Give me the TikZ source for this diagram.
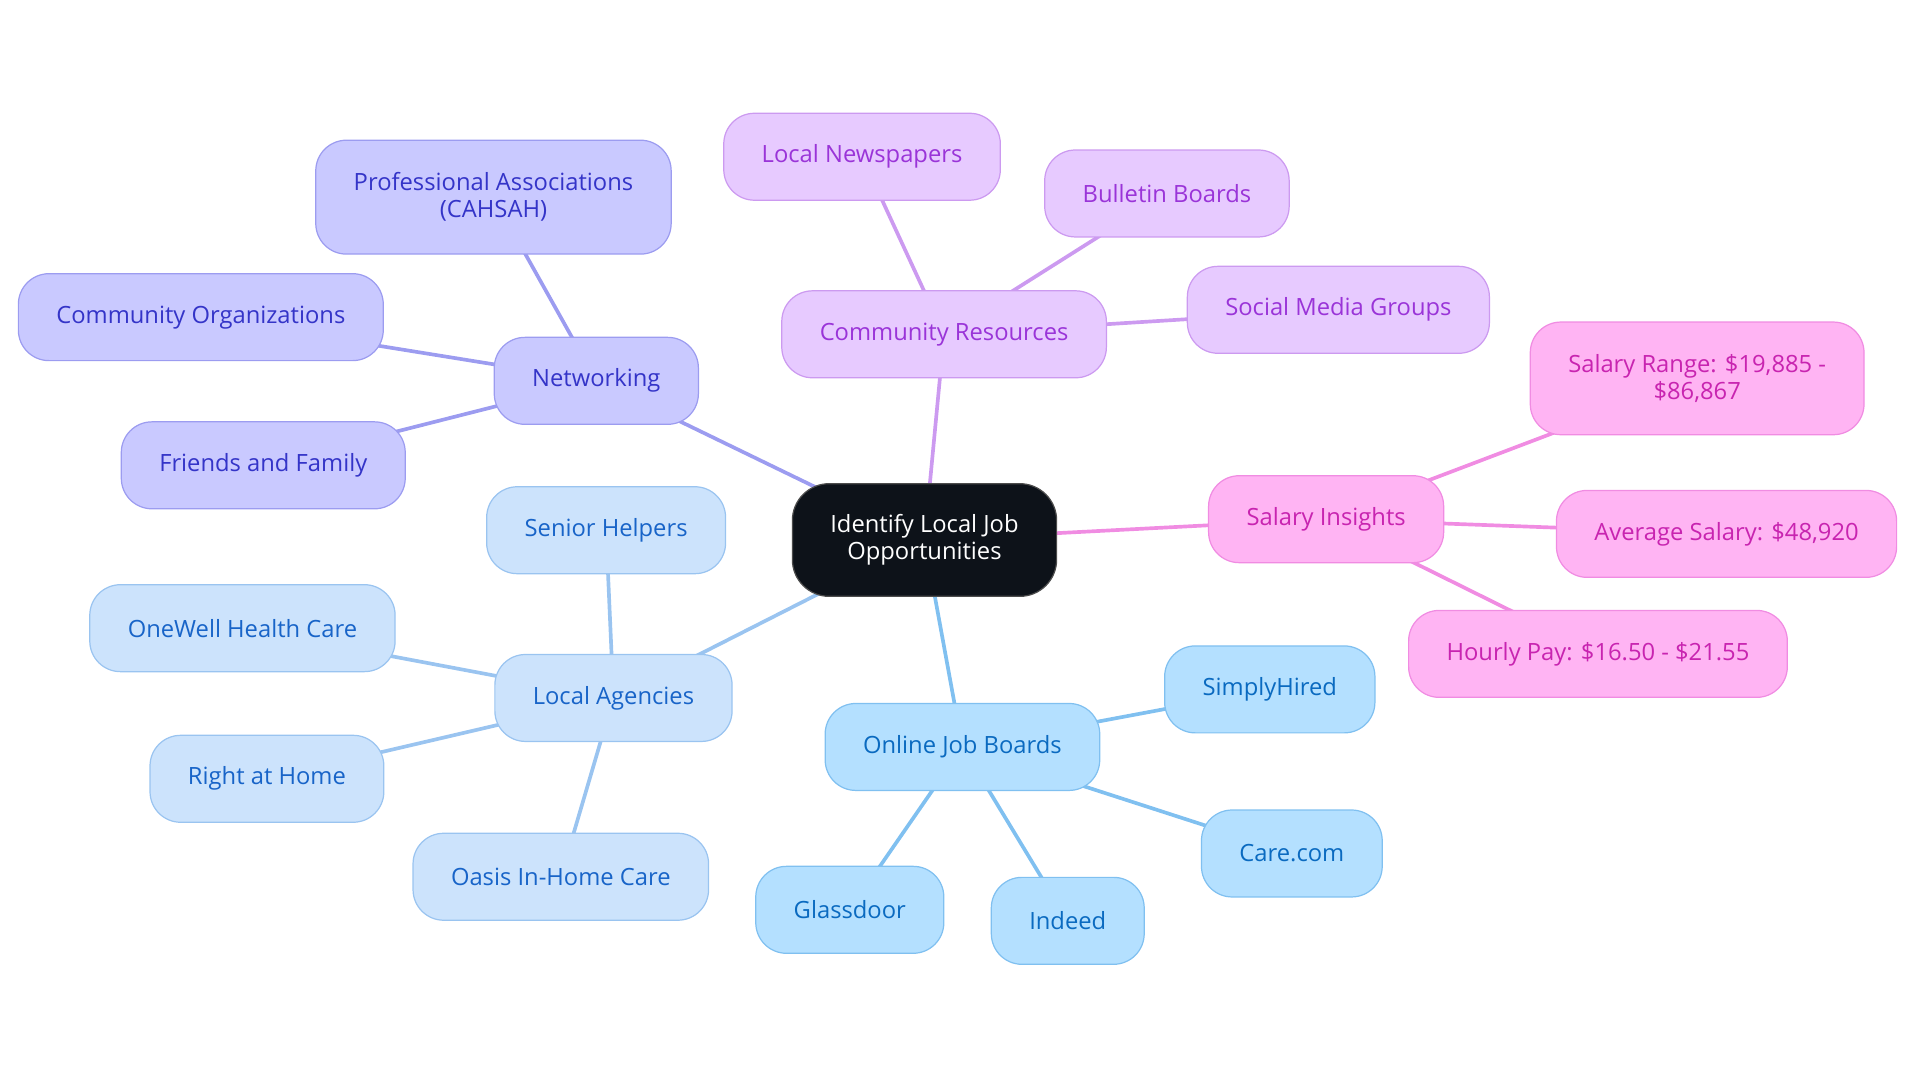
\documentclass[tikz,border=0pt]{standalone}
\usepackage{fontspec}
\setmainfont{Open Sans}
\usetikzlibrary{shapes,backgrounds}
\definecolor{netfill}{HTML}{C9C9FF}
\definecolor{netline}{HTML}{9C9CF0}
\definecolor{nettext}{HTML}{3434C8}
\definecolor{comfill}{HTML}{E7CAFF}
\definecolor{comline}{HTML}{CC9AF0}
\definecolor{comtext}{HTML}{9A34D8}
\definecolor{salfill}{HTML}{FFB4F3}
\definecolor{salline}{HTML}{F08CE2}
\definecolor{saltext}{HTML}{C824B0}
\definecolor{agefill}{HTML}{CCE3FC}
\definecolor{ageline}{HTML}{9AC4F0}
\definecolor{agetext}{HTML}{1864C8}
\definecolor{jobfill}{HTML}{B4E0FF}
\definecolor{jobline}{HTML}{80C0F0}
\definecolor{jobtext}{HTML}{0A6AC0}
\definecolor{rootfill}{HTML}{0D1219}
\tikzstyle{bubble} = [rectangle, draw, line width=1pt, rounded corners=25pt,
    minimum height=71pt, inner xsep=31pt, text centered, align=center,
    font=\fontsize{19.4}{22}\selectfont]
\tikzstyle{net} = [bubble, fill=netfill, draw=netline, text=nettext]
\tikzstyle{com} = [bubble, fill=comfill, draw=comline, text=comtext]
\tikzstyle{sal} = [bubble, fill=salfill, draw=salline, text=saltext]
\tikzstyle{age} = [bubble, fill=agefill, draw=ageline, text=agetext]
\tikzstyle{job} = [bubble, fill=jobfill, draw=jobline, text=jobtext]
\tikzstyle{link} = [line width=3pt]

\begin{document}
\begin{tikzpicture}[x=1pt,y=-1pt]
  \useasboundingbox (0,0) rectangle (1568,884.4);
  \node[bubble, fill=rootfill, draw=black!70, text=white, minimum height=92pt, rounded corners=30pt] (root) at (755,441) {Identify Local Job\\Opportunities};

  \node[net] (net) at (487,311) {Networking};
  \node[net, minimum height=93pt] (assoc) at (403,161) {Professional Associations\\(CAHSAH)};
  \node[net] (orgs) at (164,259) {Community Organizations};
  \node[net] (family) at (215,380) {Friends and Family};

  \node[com] (res) at (771,273) {Community Resources};
  \node[com] (papers) at (704,128) {Local Newspapers};
  \node[com] (boards) at (953,158) {Bulletin Boards};
  \node[com] (social) at (1093,253) {Social Media Groups};

  \node[sal] (salary) at (1083,424) {Salary Insights};
  \node[sal, minimum height=92pt] (range) at (1386,309) {Salary Range: \$19,885 -\\\$86,867};
  \node[sal] (avg) at (1410,436) {Average Salary: \$48,920};
  \node[sal] (hourly) at (1305,534) {Hourly Pay: \$16.50 - \$21.55};

  \node[age] (agencies) at (501,570) {Local Agencies};
  \node[age] (senior) at (495,433) {Senior Helpers};
  \node[age] (onewell) at (198,513) {OneWell Health Care};
  \node[age] (home) at (218,636) {Right at Home};
  \node[age] (oasis) at (458,716) {Oasis In-Home Care};

  \node[job] (online) at (786,610) {Online Job Boards};
  \node[job] (simply) at (1037,563) {SimplyHired};
  \node[job] (carecom) at (1055,697) {Care.com};
  \node[job] (indeed) at (872,752) {Indeed};
  \node[job] (glass) at (694,743) {Glassdoor};

  % connectors go under the bubbles
  \begin{scope}[on background layer]
    \draw[link, netline] (root.center) -- (net.center);
    \draw[link, netline] (net.center) -- (assoc.center);
    \draw[link, netline] (net.center) -- (orgs.center);
    \draw[link, netline] (net.center) -- (family.center);
    \draw[link, comline] (root.center) -- (res.center);
    \draw[link, comline] (res.center) -- (papers.center);
    \draw[link, comline] (res.center) -- (boards.center);
    \draw[link, comline] (res.center) -- (social.center);
    \draw[link, salline] (root.center) -- (salary.center);
    \draw[link, salline] (salary.center) -- (range.center);
    \draw[link, salline] (salary.center) -- (avg.center);
    \draw[link, salline] (salary.center) -- (hourly.center);
    \draw[link, ageline] (root.center) -- (agencies.center);
    \draw[link, ageline] (agencies.center) -- (senior.center);
    \draw[link, ageline] (agencies.center) -- (onewell.center);
    \draw[link, ageline] (agencies.center) -- (home.center);
    \draw[link, ageline] (agencies.center) -- (oasis.center);
    \draw[link, jobline] (root.center) -- (online.center);
    \draw[link, jobline] (online.center) -- (simply.center);
    \draw[link, jobline] (online.center) -- (carecom.center);
    \draw[link, jobline] (online.center) -- (indeed.center);
    \draw[link, jobline] (online.center) -- (glass.center);
  \end{scope}
\end{tikzpicture}
\end{document}
